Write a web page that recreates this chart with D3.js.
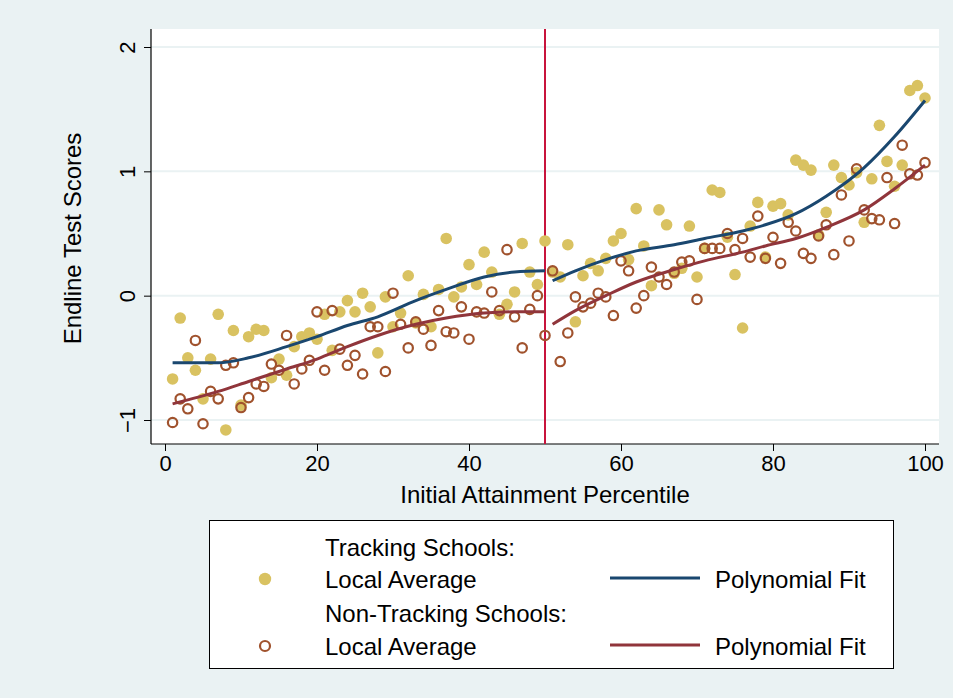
<!DOCTYPE html>
<html>
<head>
<meta charset="utf-8">
<script src="https://cdn.jsdelivr.net/npm/d3@7"></script>
<style>
  body { margin: 0; background: #eaf2f3; }
  svg { display: block; font-family: "Liberation Sans", Arial, sans-serif; }
  .axis text { font-size: 22px; fill: #000; }
  .axis line { stroke: #000; }
</style>
</head>
<body>
<svg id="chart" width="953" height="698"></svg>
<script>
// local averages by initial attainment percentile (1..100)
const percentiles = d3.range(1, 101);

const trackingAvg = [
  -0.67, -0.18, -0.50, -0.60, -0.83, -0.51, -0.15, -1.08, -0.28, -0.88,
  -0.33, -0.27, -0.28, -0.66, -0.51, -0.64, -0.41, -0.33, -0.30, -0.35,
  -0.15, -0.44, -0.13, -0.04, -0.13, 0.02, -0.09, -0.46, -0.01, -0.25,
  -0.14, 0.16, -0.22, 0.01, -0.25, 0.05, 0.46, -0.01, 0.07, 0.25,
  0.09, 0.35, 0.19, -0.15, -0.07, 0.03, 0.42, 0.19, 0.09, 0.44,
  0.19, 0.15, 0.41, -0.21, 0.16, 0.26, 0.20, 0.30, 0.44, 0.50,
  0.29, 0.70, 0.40, 0.08, 0.69, 0.57, 0.18, 0.22, 0.56, 0.15,
  0.38, 0.85, 0.83, 0.47, 0.17, -0.26, 0.56, 0.75, 0.31, 0.72,
  0.74, 0.65, 1.09, 1.05, 1.01, 0.49, 0.67, 1.05, 0.95, 0.89,
  0.99, 0.59, 0.94, 1.37, 1.08, 0.88, 1.05, 1.65, 1.69, 1.59
];

const nonTrackingAvg = [
  -1.02, -0.83, -0.91, -0.36, -1.03, -0.77, -0.83, -0.56, -0.54, -0.90,
  -0.82, -0.71, -0.73, -0.55, -0.60, -0.32, -0.71, -0.59, -0.52, -0.13,
  -0.60, -0.12, -0.43, -0.56, -0.48, -0.63, -0.25, -0.25, -0.61, 0.02,
  -0.23, -0.42, -0.21, -0.27, -0.40, -0.12, -0.29, -0.30, -0.09, -0.35,
  -0.13, -0.14, 0.03, -0.12, 0.37, -0.17, -0.42, -0.11, 0.00, -0.32,
  0.20, -0.53, -0.30, -0.01, -0.09, -0.06, 0.02, -0.01, -0.16, 0.28,
  0.20, -0.10, 0.00, 0.23, 0.15, 0.09, 0.19, 0.27, 0.28, -0.03,
  0.38, 0.38, 0.38, 0.50, 0.37, 0.46, 0.31, 0.64, 0.30, 0.47,
  0.26, 0.59, 0.52, 0.34, 0.30, 0.48, 0.57, 0.33, 0.81, 0.44,
  1.02, 0.69, 0.62, 0.61, 0.95, 0.58, 1.21, 0.98, 0.97, 1.07
];

// polynomial fits (below and above the 50th percentile)
const fitLeftX = [1, 7, 11, 16, 20, 24, 28, 33, 37, 42, 46, 50];
const trackingFitLeft = [-0.54, -0.54, -0.50, -0.41, -0.33, -0.24, -0.17, -0.04, 0.05, 0.15, 0.19, 0.20];
const nonTrackingFitLeft = [-0.87, -0.77, -0.69, -0.59, -0.51, -0.41, -0.32, -0.23, -0.18, -0.14, -0.13, -0.13];

const fitRightX = [51, 54, 58, 62, 67, 71, 76, 79, 83, 87, 92, 96, 100];
const trackingFitRight = [0.12, 0.20, 0.29, 0.36, 0.41, 0.46, 0.52, 0.57, 0.66, 0.80, 1.03, 1.28, 1.57];
const nonTrackingFitRight = [-0.23, -0.12, 0.00, 0.11, 0.21, 0.28, 0.35, 0.40, 0.46, 0.55, 0.69, 0.86, 1.05];

const cutoff = 50;
const xTicks = [0, 20, 40, 60, 80, 100];
const yTicks = [-1, 0, 1, 2];

const colors = {
  tracking: '#d9c261',
  nonTracking: '#a0522d',
  trackingFit: '#1a476f',
  nonTrackingFit: '#90353b',
  cutoff: '#c8143c',
};

const plot = { left: 151, right: 939, top: 29, bottom: 444 };

const svg = d3.select('#chart');

svg.append('rect')
  .attr('width', 953).attr('height', 698)
  .attr('fill', '#eaf2f3');

svg.append('rect')
  .attr('x', plot.left).attr('y', plot.top)
  .attr('width', plot.right - plot.left).attr('height', plot.bottom - plot.top)
  .attr('fill', '#fff');

const xScale = d3.scaleLinear().domain([0, 100]).range([165, 925]);
const yScale = d3.scaleLinear().domain([-1, 2]).range([420, 47]);

// gridlines
svg.append('g')
  .selectAll('line')
  .data(yTicks)
  .enter().append('line')
  .attr('x1', plot.left).attr('x2', plot.right)
  .attr('y1', d => yScale(d)).attr('y2', d => yScale(d))
  .attr('stroke', '#eaf2f3')
  .attr('stroke-width', 2);

// axes
const yAxis = svg.append('g')
  .attr('class', 'axis y')
  .attr('transform', `translate(${plot.left}, 0)`)
  .call(d3.axisLeft(yScale).tickValues(yTicks).tickSize(7).tickPadding(4).tickFormat(d3.format('d')));
yAxis.select('.domain').remove();
yAxis.selectAll('.tick text')
  .attr('transform', 'rotate(-90)')
  .attr('x', 0)
  .attr('y', -16)
  .attr('dy', 0)
  .attr('text-anchor', 'middle');

const xAxis = svg.append('g')
  .attr('class', 'axis x')
  .attr('transform', `translate(0, ${plot.bottom})`)
  .call(d3.axisBottom(xScale).tickValues(xTicks).tickSize(7).tickPadding(4));
xAxis.select('.domain').remove();

svg.append('line')
  .attr('x1', plot.left).attr('x2', plot.left)
  .attr('y1', plot.top).attr('y2', plot.bottom)
  .attr('stroke', '#000').attr('stroke-width', 1.2);
svg.append('line')
  .attr('x1', plot.left).attr('x2', plot.right)
  .attr('y1', plot.bottom).attr('y2', plot.bottom)
  .attr('stroke', '#000').attr('stroke-width', 1.2);

svg.append('text')
  .attr('transform', `translate(81, ${(plot.top + plot.bottom) / 2 + 2}) rotate(-90)`)
  .attr('text-anchor', 'middle')
  .style('font-size', '24px')
  .text('Endline Test Scores');

svg.append('text')
  .attr('x', 545).attr('y', 503)
  .attr('text-anchor', 'middle')
  .style('font-size', '24px')
  .text('Initial Attainment Percentile');

// cutoff
svg.append('line')
  .attr('x1', xScale(cutoff)).attr('x2', xScale(cutoff))
  .attr('y1', plot.top).attr('y2', plot.bottom)
  .attr('stroke', colors.cutoff).attr('stroke-width', 2);

// local averages
svg.append('g')
  .selectAll('circle')
  .data(percentiles)
  .enter().append('circle')
  .attr('cx', (d, i) => xScale(d))
  .attr('cy', (d, i) => yScale(trackingAvg[i]))
  .attr('r', 5.8)
  .attr('fill', colors.tracking);

svg.append('g')
  .selectAll('circle')
  .data(percentiles)
  .enter().append('circle')
  .attr('cx', (d, i) => xScale(d))
  .attr('cy', (d, i) => yScale(nonTrackingAvg[i]))
  .attr('r', 4.7)
  .attr('fill', 'none')
  .attr('stroke', colors.nonTracking)
  .attr('stroke-width', 2.2);

// fits
const line = d3.line()
  .x(d => xScale(d[0]))
  .y(d => yScale(d[1]))
  .curve(d3.curveMonotoneX);

function drawFit(xs, ys, color) {
  svg.append('path')
    .datum(xs.map((x, i) => [x, ys[i]]))
    .attr('d', line)
    .attr('fill', 'none')
    .attr('stroke', color)
    .attr('stroke-width', 3);
}

drawFit(fitLeftX, trackingFitLeft, colors.trackingFit);
drawFit(fitRightX, trackingFitRight, colors.trackingFit);
drawFit(fitLeftX, nonTrackingFitLeft, colors.nonTrackingFit);
drawFit(fitRightX, nonTrackingFitRight, colors.nonTrackingFit);

// legend
const legend = svg.append('g');
legend.append('rect')
  .attr('x', 209.5).attr('y', 520.5)
  .attr('width', 684).attr('height', 148)
  .attr('fill', '#fff')
  .attr('stroke', '#000')
  .attr('stroke-width', 1);

const legendText = [
  { x: 325, y: 556, t: 'Tracking Schools:' },
  { x: 325, y: 588, t: 'Local Average' },
  { x: 715, y: 588, t: 'Polynomial Fit' },
  { x: 325, y: 622, t: 'Non-Tracking Schools:' },
  { x: 325, y: 655, t: 'Local Average' },
  { x: 715, y: 655, t: 'Polynomial Fit' },
];
legend.selectAll('text')
  .data(legendText)
  .enter().append('text')
  .attr('x', d => d.x).attr('y', d => d.y)
  .style('font-size', '24px')
  .text(d => d.t);

legend.append('circle')
  .attr('cx', 265).attr('cy', 579).attr('r', 6.2)
  .attr('fill', colors.tracking);
legend.append('circle')
  .attr('cx', 265).attr('cy', 646).attr('r', 5)
  .attr('fill', 'none').attr('stroke', colors.nonTracking).attr('stroke-width', 2.2);
legend.append('line')
  .attr('x1', 610).attr('x2', 700).attr('y1', 578).attr('y2', 578)
  .attr('stroke', colors.trackingFit).attr('stroke-width', 3);
legend.append('line')
  .attr('x1', 610).attr('x2', 700).attr('y1', 645).attr('y2', 645)
  .attr('stroke', colors.nonTrackingFit).attr('stroke-width', 3);
</script>
</body>
</html>
